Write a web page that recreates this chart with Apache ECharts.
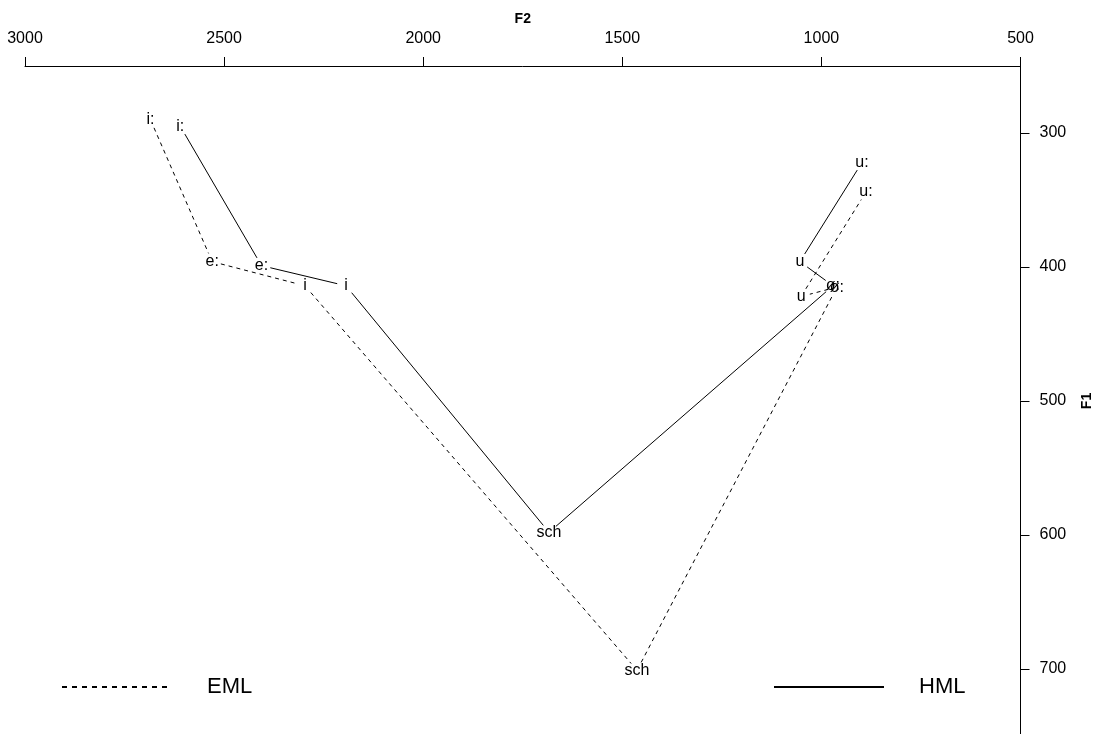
<!DOCTYPE html>
<html>
<head>
<meta charset="utf-8">
<title>F1/F2 vowel chart</title>
<script src="https://cdn.jsdelivr.net/npm/echarts@6/dist/echarts.min.js"></script>
<style>
  html, body { margin: 0; padding: 0; background: #fff; overflow: hidden; }
  #chart { width: 1095px; height: 734px; }
</style>
</head>
<body>
<div id="chart"></div>
<script>
// Axis ticks (Hz)
const f2Ticks = [3000, 2500, 2000, 1500, 1000, 500];
const f1Ticks = [300, 400, 500, 600, 700];

// Vowel labels, in the order each trajectory is drawn
const vowels = ['i:', 'e:', 'i', 'sch', 'ø:', 'u', 'u:'];

// EML formant means (Hz)
const emlF2 = [2685, 2530, 2297, 1463, 961, 1051, 888];
const emlF1 = [290, 396, 414, 701, 415, 422, 344];

// HML formant means (Hz)
const hmlF2 = [2610, 2406, 2194, 1684, 971, 1054, 898];
const hmlF1 = [295, 399, 414, 598, 414, 396, 322];

const FONT = '"Liberation Sans", Arial, Helvetica, sans-serif';
const GAP = 9; // space left open around each label, px

// One custom series per speaker group: label at each point,
// segment to the next point with a small gap at both ends.
function trajectory(id, f2, f1, dash) {
  return {
    type: 'custom',
    name: id,
    coordinateSystem: 'cartesian2d',
    data: f2.map((x, i) => [x, f1[i]]),
    encode: { x: 0, y: 1 },
    clip: false,
    silent: true,
    renderItem: function (params, api) {
      const i = params.dataIndex;
      const p = api.coord([api.value(0), api.value(1)]);
      const children = [{
        type: 'text',
        style: {
          text: vowels[i], x: p[0], y: p[1],
          align: 'center', verticalAlign: 'middle',
          fontSize: 16, fontFamily: FONT, fill: '#000'
        }
      }];
      if (i < f2.length - 1) {
        const q = api.coord([f2[i + 1], f1[i + 1]]);
        const dx = q[0] - p[0], dy = q[1] - p[1];
        const len = Math.hypot(dx, dy);
        if (len > 2 * GAP) {
          const ux = dx / len, uy = dy / len;
          children.push({
            type: 'line',
            shape: {
              x1: p[0] + ux * GAP, y1: p[1] + uy * GAP,
              x2: q[0] - ux * GAP, y2: q[1] - uy * GAP
            },
            style: { stroke: '#000', lineWidth: 1, lineDash: dash, fill: null }
          });
        }
      }
      return { type: 'group', children: children };
    }
  };
}

// Legend-only entries carrying the line styles
function legendEntry(name, type) {
  return {
    type: 'line', name: name, data: [], symbol: 'none', showSymbol: false,
    itemStyle: { color: '#000' },
    lineStyle: { color: '#000', width: 1, type: type }
  };
}

function legendBox(name, left) {
  return {
    data: [name], left: left, top: 676, orient: 'horizontal', padding: 0,
    itemWidth: 110, itemHeight: 22, selectedMode: false,
    itemStyle: { opacity: 0 },
    textStyle: { fontSize: 22, fontFamily: FONT, color: '#000', padding: [0, 0, 0, 30] }
  };
}

const plain = v => String(v);

const chart = echarts.init(document.getElementById('chart'), null, { renderer: 'canvas' });
chart.setOption({
  backgroundColor: '#fff',
  animation: false,
  color: ['#000'],
  grid: { left: 25, right: 74.5, top: 66, bottom: -2, containLabel: false, outerBoundsMode: 'none' },
  xAxis: {
    type: 'value', position: 'top', inverse: true,
    min: 500, max: 3000, interval: 500,
    name: 'F2', nameLocation: 'middle', nameGap: 39,
    nameTextStyle: { fontSize: 14, fontWeight: 'bold', fontFamily: FONT, color: '#000' },
    axisLine: { show: true, onZero: false, lineStyle: { color: '#000', width: 1 } },
    axisTick: { show: true, inside: false, length: 9, customValues: f2Ticks, lineStyle: { color: '#000' } },
    axisLabel: { show: true, margin: 19, fontSize: 16, fontFamily: FONT, color: '#000', customValues: f2Ticks, formatter: plain },
    splitLine: { show: false }
  },
  yAxis: {
    type: 'value', position: 'right', inverse: true,
    min: 250, max: 750, interval: 50,
    name: 'F1', nameLocation: 'middle', nameGap: 60, nameRotate: 90,
    nameTextStyle: { fontSize: 14, fontWeight: 'bold', fontFamily: FONT, color: '#000' },
    axisLine: { show: true, onZero: false, lineStyle: { color: '#000', width: 1 } },
    axisTick: { show: true, inside: false, length: 9, customValues: f1Ticks, lineStyle: { color: '#000' } },
    axisLabel: { show: true, margin: 19, fontSize: 16, fontFamily: FONT, color: '#000', customValues: f1Ticks, formatter: plain },
    splitLine: { show: false }
  },
  legend: [legendBox('EML', 61), legendBox('HML', 773)],
  series: [
    legendEntry('EML', [5, 5]),
    legendEntry('HML', 'solid'),
    trajectory('EML path', emlF2, emlF1, [4, 4]),
    trajectory('HML path', hmlF2, hmlF1, null)
  ]
});
</script>
</body>
</html>
